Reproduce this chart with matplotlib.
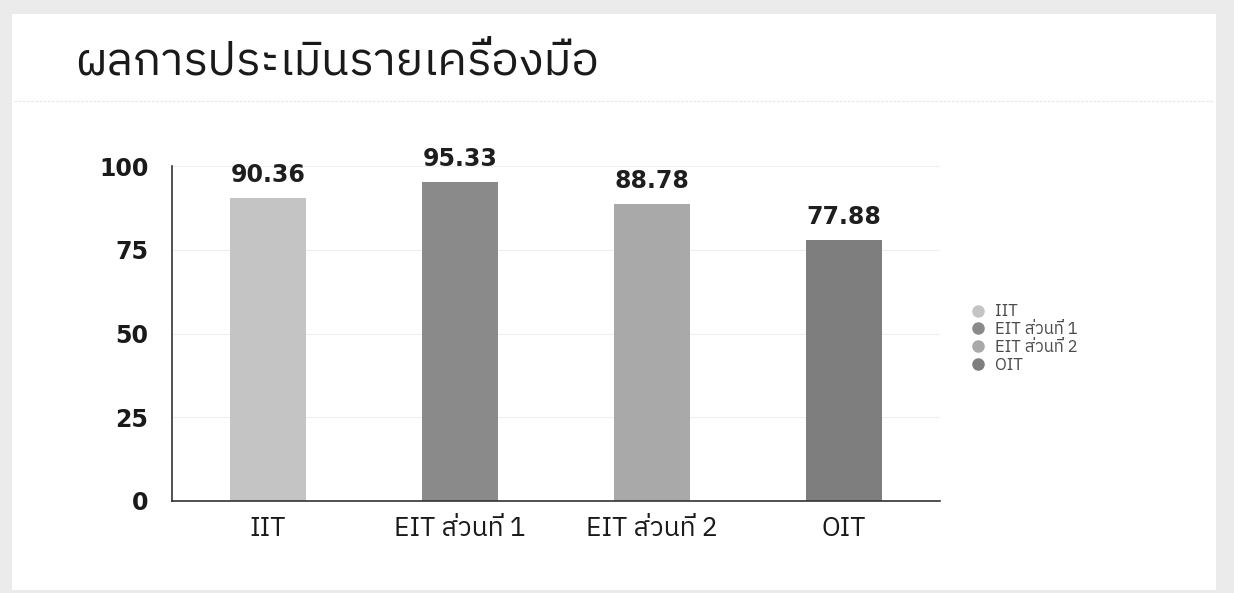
import matplotlib
matplotlib.use("Agg")
import matplotlib.pyplot as plt
from matplotlib import font_manager
from matplotlib.patches import Rectangle
from matplotlib.lines import Line2D

# data
categories = ["IIT", "EIT ส่วนที่ 1", "EIT ส่วนที่ 2", "OIT"]
scores = [90.36, 95.33, 88.78, 77.88]
score_labels = ["90.36", "95.33", "88.78", "77.88"]
bar_colors = ["#c4c4c4", "#8a8a8a", "#a9a9a9", "#7e7e7e"]
yticks = [0, 25, 50, 75, 100]
title = "ผลการประเมินรายเครื่องมือ"


def find_thai_font():
    # look for any installed font that has Thai glyphs
    try:
        from fontTools.ttLib import TTFont
    except ImportError:
        return None
    found = []
    for f in font_manager.fontManager.ttflist:
        try:
            tt = TTFont(f.fname, fontNumber=0, lazy=True)
            cmap = tt.getBestCmap()
            if cmap and 0x0E2A in cmap and 0x0E48 in cmap:
                found.append(f.name)
        except Exception:
            continue
    if not found:
        return None
    # the scan uses a loopless thai face
    for n in found:
        if "Thai" in n and "Looped" not in n:
            return n
    return found[0]


thai = find_thai_font()
fams = ([thai] if thai else []) + ["DejaVu Sans"]
plt.rcParams["font.family"] = fams

fig = plt.figure(figsize=(12.34, 5.93), dpi=100, facecolor="#ebebeb")
W, H = 1234, 593

# white card inside the scanned grey edge
fig.patches.append(Rectangle((12 / W, 3 / H), 1204 / W, 576 / H, transform=fig.transFigure,
                             facecolor="white", edgecolor="none", zorder=-5))
fig.lines.append(Line2D([14 / W, 1214 / W], [1 - 101 / H, 1 - 101 / H], transform=fig.transFigure,
                        color="#ebebeb", lw=1, ls=(0, (2, 1))))

fig.text(75 / W, 1 - 62 / H, title, fontsize=33, color="#1a1a1a", va="center", ha="left")

ax = fig.add_axes([172 / W, 1 - 501 / H, 768 / W, 335 / H])
ax.patch.set_alpha(0)
x = range(len(categories))
bars = ax.bar(x, scores, width=0.4, color=bar_colors, zorder=2)
for b, lab in zip(bars, score_labels):
    ax.text(b.get_x() + b.get_width() / 2, b.get_height() + 3.3, lab, ha="center", va="bottom",
            fontsize=17, color="#1e1e1e", fontweight="bold", family="DejaVu Sans")

ax.set_xlim(-0.5, 3.5)
ax.set_ylim(0, 100)
ax.set_yticks(yticks)
ax.set_yticklabels([str(v) for v in yticks], fontsize=17, color="#1a1a1a",
                   fontweight="bold", family="DejaVu Sans")
ax.set_xticks(list(x))
ax.set_xticklabels(categories, fontsize=19, color="#1a1a1a")
ax.tick_params(axis="both", length=0)
ax.tick_params(axis="y", pad=17)
ax.tick_params(axis="x", pad=11)
ax.yaxis.grid(True, color="#efefef", lw=0.8, zorder=0)
for s in ["top", "right"]:
    ax.spines[s].set_visible(False)
ax.spines["left"].set_color("#333333")
ax.spines["bottom"].set_color("#333333")
ax.spines["left"].set_linewidth(1.2)
ax.spines["bottom"].set_linewidth(1.2)

handles = [Line2D([0], [0], marker="o", ls="none", markersize=8, markerfacecolor=c,
                  markeredgecolor=c) for c in bar_colors]
fig.legend(handles, categories, loc="center left", bbox_to_anchor=(955 / W, 1 - 338 / H),
           frameon=False, fontsize=12, handletextpad=0.5, labelspacing=0.1,
           labelcolor="#4a4a4a", handlelength=1.0)

fig.savefig("out.png", dpi=100, facecolor=fig.get_facecolor())
